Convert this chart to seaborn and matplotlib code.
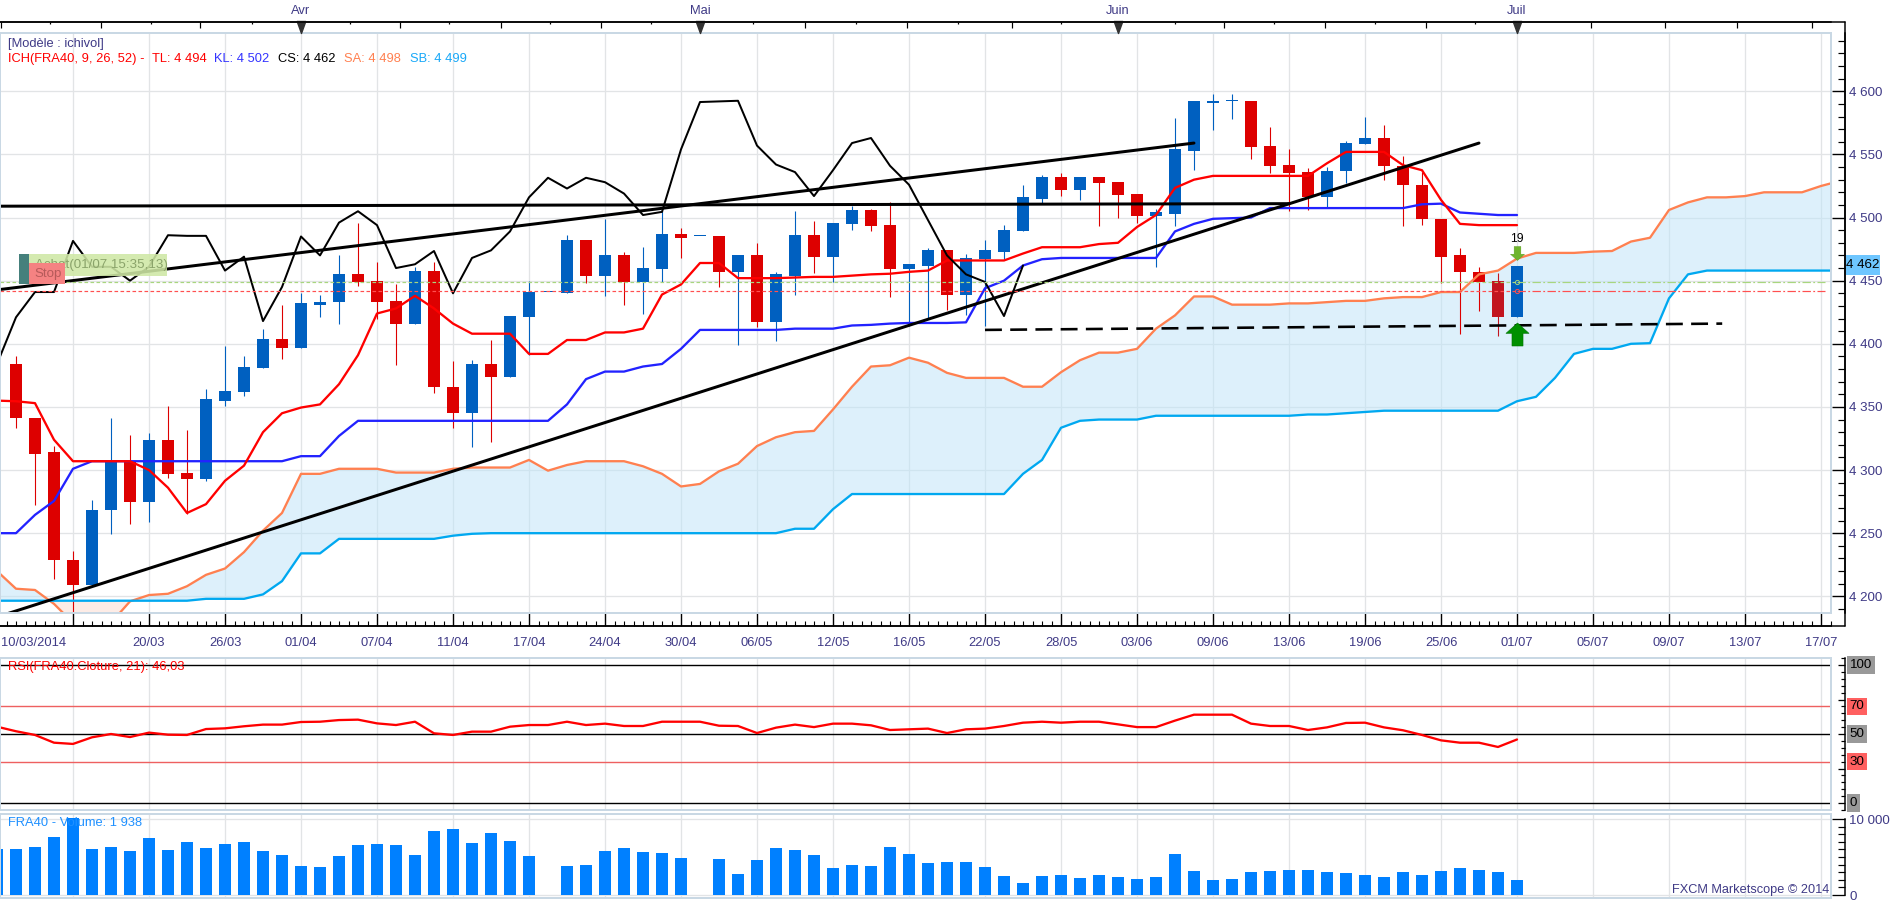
import numpy as np
import pandas as pd
import seaborn as sns
import matplotlib.pyplot as plt
from matplotlib.lines import Line2D
from matplotlib.path import Path
from matplotlib.patches import Rectangle
from matplotlib.ticker import MultipleLocator, FixedLocator, NullFormatter

W, H = 1903, 900

# candles, k = 0..79
opens = [4384, 4341, 4314, 4229, 4209, 4268, 4307, 4275, 4324, 4298, 4293, 4355, 4362, 4381, 4404, 4397,
         4431, 4433, 4455, 4450, 4434, 4416, 4458, 4366, 4345, 4384, 4374, 4421, 4441, 4440, 4482, 4454,
         4470, 4449, 4459, 4487, 4485, 4485, 4457, 4470, 4417, 4454, 4486, 4469, 4495, 4506, 4494, 4459,
         4462, 4474, 4439, 4467, 4473, 4489, 4515, 4532, 4522, 4532, 4528, 4519, 4501, 4503, 4553, 4591,
         4592, 4592, 4557, 4542, 4536, 4516, 4537, 4558, 4563, 4541, 4526, 4499, 4470, 4457, 4450, 4421]
closes = [4341, 4313, 4229, 4209, 4268, 4307, 4275, 4324, 4297, 4293, 4356, 4363, 4382, 4404, 4397, 4432,
          4433, 4455, 4449, 4433, 4416, 4458, 4366, 4345, 4384, 4374, 4422, 4441, 4441, 4482, 4454, 4470,
          4449, 4460, 4487, 4484, 4485, 4457, 4470, 4417, 4455, 4486, 4469, 4496, 4506, 4493, 4459, 4463,
          4474, 4439, 4468, 4474, 4490, 4516, 4532, 4522, 4532, 4527, 4518, 4501, 4504, 4554, 4592, 4592,
          4592, 4556, 4541, 4535, 4516, 4537, 4559, 4563, 4541, 4526, 4499, 4469, 4457, 4449, 4421, 4462]
highs = [4390, 4341, 4319, 4236, 4276, 4341, 4328, 4329, 4351, 4332, 4364, 4398, 4390, 4412, 4431, 4440,
         4439, 4470, 4496, 4465, 4447, 4461, 4465, 4386, 4387, 4403, 4422, 4450, 4441, 4486, 4482, 4499,
         4473, 4477, 4506, 4492, 4485, 4485, 4470, 4480, 4457, 4505, 4497, 4496, 4509, 4507, 4512, 4463,
         4476, 4474, 4471, 4482, 4494, 4526, 4534, 4535, 4532, 4532, 4528, 4519, 4507, 4579, 4592, 4598,
         4598, 4592, 4572, 4554, 4539, 4540, 4561, 4580, 4573, 4549, 4536, 4499, 4476, 4461, 4456, 4462]
lows = [4333, 4272, 4214, 4186, 4209, 4249, 4257, 4259, 4294, 4265, 4291, 4351, 4359, 4381, 4388, 4397,
        4421, 4416, 4446, 4420, 4383, 4416, 4361, 4333, 4318, 4322, 4374, 4391, 4441, 4440, 4448, 4438,
        4431, 4424, 4449, 4468, 4485, 4445, 4399, 4413, 4402, 4439, 4456, 4449, 4490, 4489, 4437, 4414,
        4420, 4427, 4423, 4414, 4467, 4489, 4511, 4517, 4514, 4493, 4500, 4496, 4461, 4493, 4538, 4569,
        4578, 4546, 4535, 4505, 4506, 4508, 4527, 4558, 4530, 4493, 4494, 4448, 4408, 4426, 4406, 4421]

# indicators, first value is k = -1
tl = [4355, 4354.5, 4353, 4324, 4307, 4307, 4307, 4307, 4300, 4286, 4266, 4273, 4291.5, 4303.5, 4330, 4345, 4349.5,
      4352, 4368, 4391, 4424, 4428, 4438, 4428, 4416, 4408, 4408, 4408, 4392, 4392, 4403, 4403, 4409, 4409,
      4412, 4439, 4447, 4464, 4464, 4452, 4452, 4452, 4452.5, 4453, 4453, 4454, 4455, 4455.5, 4457, 4458, 4466,
      4466, 4466, 4466, 4471.5, 4476.5, 4476.5, 4476.5, 4479, 4480, 4492.5, 4502, 4523.5, 4530, 4533, 4533, 4533,
      4533, 4533, 4533, 4543, 4552, 4552, 4552, 4541.5, 4537.5, 4514, 4495, 4494, 4494, 4494]
kl = [4250, 4250, 4264.5, 4275.5, 4301, 4307, 4307, 4307, 4307, 4307, 4307, 4307, 4307, 4307, 4307, 4307, 4311,
      4311, 4327, 4339, 4339, 4339, 4339, 4339, 4339, 4339, 4339, 4339, 4339, 4339, 4352, 4372, 4378, 4378,
      4382, 4384, 4396, 4411, 4411, 4411, 4411, 4411, 4412, 4412, 4412, 4414.5, 4415, 4416, 4416.5, 4416.5, 4416.5,
      4417, 4444, 4450, 4462, 4467, 4468, 4468, 4468, 4468, 4468, 4468, 4489, 4495, 4499, 4499.5, 4500, 4507.5,
      4507.5, 4507.5, 4507.5, 4507.5, 4507.5, 4507.5, 4507.5, 4510.5, 4511, 4504, 4503, 4502, 4502]
cs = [4384, 4421, 4441, 4441, 4481.5, 4461, 4461, 4450, 4461, 4486, 4485.5, 4485.5, 4458, 4469, 4418, 4445, 4485,
      4470, 4496, 4505, 4494, 4460, 4463, 4473.5, 4440, 4468, 4474, 4489, 4516, 4531.5, 4523, 4531.5, 4528, 4519,
      4502, 4504.5, 4554, 4591.5, 4592, 4592.5, 4557, 4542, 4536, 4517, 4537.5, 4559, 4563, 4541, 4526, 4498, 4470,
      4455, 4449, 4422, 4462]
sa = [4220, 4206, 4205, 4194, 4179, 4176, 4179, 4196, 4201, 4202, 4208, 4217, 4222, 4235, 4252, 4266, 4297,
      4297, 4301, 4301, 4301, 4298, 4298, 4298, 4301, 4302, 4302, 4302, 4308, 4299.5, 4304, 4307, 4307, 4307,
      4303, 4297, 4287, 4289, 4299, 4305, 4319, 4326, 4330, 4331, 4348, 4366, 4382, 4383, 4389, 4385, 4377,
      4373, 4373, 4373, 4366, 4366, 4377.5, 4387, 4393, 4393, 4396, 4412, 4422.5, 4437.5, 4437.5, 4431, 4431, 4431,
      4432, 4432, 4433, 4434, 4434, 4436, 4437, 4437, 4441, 4441, 4455, 4458, 4467.5, 4472, 4472, 4472, 4473, 4473.5,
      4481, 4484, 4506, 4512, 4516, 4516, 4517, 4520, 4520, 4520, 4525, 4529]
sb = [4196.5, 4196.5, 4196.5, 4196.5, 4196.5, 4196.5, 4196.5, 4196.5, 4196.5, 4196.5, 4196.5, 4198, 4198, 4198, 4201.5,
      4212, 4234, 4234, 4245.5, 4245.5, 4245.5, 4245.5, 4245.5, 4245.5, 4248, 4249.5, 4250, 4250, 4250, 4250, 4250,
      4250, 4250, 4250, 4250, 4250, 4250, 4250, 4250, 4250, 4250, 4250, 4253.5, 4253.5, 4269, 4281, 4281, 4281, 4281,
      4281, 4281, 4281, 4281, 4281, 4297, 4308, 4333.5, 4339, 4340, 4340, 4340, 4343, 4343, 4343, 4343, 4343, 4343,
      4343, 4343, 4344, 4344, 4345, 4346, 4347, 4347, 4347, 4347, 4347, 4347, 4347, 4354.5, 4358, 4373, 4392, 4396,
      4396, 4400, 4400.5, 4436, 4455, 4458, 4458, 4458, 4458, 4458, 4458, 4458, 4458]
rsi = [55.3, 52, 49.3, 43.7, 42.8, 47.6, 50, 47.8, 51, 49.5, 49.3, 53.6, 54.1, 55.6, 56.8, 56.8, 58.7, 58.9, 60.1,
       60.4, 57.7, 56.5, 58.9, 50.5, 49.3, 51.7, 51.7, 55.3, 56.5, 56.5, 58.9, 56.5, 57.5, 55.8, 55.8, 58.9, 58.9,
       58.9, 56, 55.8, 50.7, 54.6, 56.8, 55, 57.5, 57.5, 56.3, 52.9, 53.4, 53.9, 50.7, 53.4, 53.9, 55.8, 58.2, 58.9,
       58.2, 58.9, 58.9, 57, 55, 55, 59.7, 64, 64, 64, 57.5, 55.8, 55.8, 52.9, 54.8, 58, 58.2, 54.8, 52.7, 49.3,
       45.4, 43.7, 43.7, 40.6, 46.03]
volume = [6100, 6100, 6370, 7680, 10100, 6100, 6370, 5840, 7550, 5970, 7020, 6230, 6760, 7020, 5840, 5310, 3860,
          3730, 5180, 6630, 6760, 6630, 5310, 8470, 8740, 6890, 8210, 7160, 5180, 50, 3860, 3995, 5840, 6230, 5710,
          5580, 4920, 50, 4790, 2810, 4650, 6230, 5970, 5310, 3600, 3995, 3860, 6370, 5440, 4260, 4390, 4390, 3730,
          2550, 1620, 2550, 2680, 2280, 2680, 2410, 2150, 2410, 5440, 3200, 2020, 2150, 3070, 3200, 3340, 3340, 3070,
          2940, 2680, 2410, 3070, 2680, 3200, 3600, 3340, 3070, 1938]

# trend lines (k, price)
resistance_k, resistance_p = [-0.84, 62], [4443, 4559]
support_k, support_p = [-0.5, 77], [4186, 4559]
flat_k, flat_p = [-0.84, 67], [4509, 4511]
dashed_k, dashed_p = [51, 89.8], [4411, 4416]

grid_k = list(range(3, 96, 4))
date_k = list(range(7, 96, 4))
date_labels = ['20/03', '26/03', '01/04', '07/04', '11/04', '17/04', '24/04', '30/04', '06/05', '12/05', '16/05',
               '22/05', '28/05', '03/06', '09/06', '13/06', '19/06', '25/06', '01/07', '05/07', '09/07', '13/07',
               '17/07']
month_k = [15, 36, 58, 79]
month_labels = ['Avr', 'Mai', 'Juin', 'Juil']
top_long_k = [-0.8, 4.45, 9.7, 20.2, 25.5, 30.8, 41.5, 46.9, 52.4, 63.6, 68.9, 74.2, 82.9, 86.8, 90.6, 94.5]
top_short_k = [1.8, 7.1, 12.4, 17.6, 22.8, 28.1, 33.4, 38.8, 44.2, 49.6, 55, 61, 66.2, 71.5, 76.8]

NAVY = '#3f3a86'
FRAME = '#c9d8e4'
GRID = '#e2e4e6'
PX = 0.72  # one pixel in points at dpi 100
FS = 9.3

sns.set_theme(style='white')
plt.rcParams['font.family'] = ['Liberation Sans', 'DejaVu Sans']
plt.rcParams['font.size'] = FS

fig = plt.figure(figsize=(W / 100, H / 100), dpi=100, facecolor='white')


def panel(left, top, right, bottom):
    return fig.add_axes([left / W, 1 - bottom / H, (right - left) / W, (bottom - top) / H])


def fig_line(x0, y0, x1, y1, **kw):
    fig.add_artist(Line2D([x0 / W, x1 / W], [1 - y0 / H, 1 - y1 / H], transform=fig.transFigure, **kw))


def base_style(ax):
    ax.set_xlim(-16 / 19, (1831 - 16) / 19)
    ax.set_xlabel('')
    ax.set_ylabel('')
    ax.set_xticks([])
    for side in ['left', 'top', 'bottom']:
        ax.spines[side].set_visible(False)
    ax.spines['right'].set_position(('outward', 14 * PX))
    ax.spines['right'].set_color('black')
    ax.spines['right'].set_linewidth(1.5 * PX)
    ax.yaxis.tick_right()
    ax.add_patch(Rectangle((0, 0), 1, 1, transform=ax.transAxes, fill=False, ec=FRAME, lw=2 * PX,
                           clip_on=False, zorder=6))
    for gk in grid_k:
        ax.axvline(gk, color=GRID, lw=1.3 * PX, zorder=1.5)


# price panel
ax = panel(0, 33, 1831, 613)
k_all = np.arange(-1, 97)
sa_arr, sb_arr = np.array(sa), np.array(sb)
ax.fill_between(k_all, sa_arr, sb_arr, where=sa_arr >= sb_arr, interpolate=True, color='#bfe4f9', alpha=0.52, lw=0,
                zorder=2)
ax.fill_between(k_all, sa_arr, sb_arr, where=sa_arr < sb_arr, interpolate=True, color='#fbd5c8', alpha=0.45, lw=0,
                zorder=2)

candles = pd.DataFrame({'k': np.arange(80), 'open': opens, 'close': closes, 'high': highs, 'low': lows})
candles['body_low'] = candles[['open', 'close']].min(axis=1)
candles['body_h'] = (candles['close'] - candles['open']).abs().clip(lower=1.2)
candles['colour'] = np.where(candles['close'] >= candles['open'], '#0060c0', '#dd0000')
candles.loc[78, 'colour'] = '#c2151f'
ax.vlines(candles['k'], candles['low'], candles['high'], colors=candles['colour'], lw=1.1 * PX, zorder=3)
for colour, sub in candles.groupby('colour'):
    sns.barplot(x=sub['k'].values, y=sub['body_h'].values, bottom=sub['body_low'].values, native_scale=True,
                orient='x', width=12 / 19, color=colour, saturation=1, errorbar=None, ax=ax, zorder=3.2, lw=0)

series = [(k_all, sa, '#ff8050', 2.3), (k_all, sb, '#00a8f0', 2.3),
          (k_all[:81], kl, '#2222ff', 2.3), (k_all[:81], tl, '#ff0000', 2.3), (k_all[:55], cs, 'black', 2.0)]
for xs, ys, colour, width in series:
    sns.lineplot(x=xs, y=ys, color=colour, lw=width * PX, estimator=None, sort=False, ax=ax, zorder=4)
for xs, ys in [(resistance_k, resistance_p), (support_k, support_p), (flat_k, flat_p)]:
    sns.lineplot(x=xs, y=ys, color='black', lw=3 * PX, estimator=None, sort=False, ax=ax, zorder=4.2)
ax.plot(dashed_k, dashed_p, color='black', lw=2.6 * PX, dashes=(6.5, 3.2), zorder=4.2)

# order levels
ax.plot([-0.84, 79], [4449, 4449], color='#a8d67e', lw=1.2 * PX, dashes=(3, 2), zorder=4.3)
ax.plot([79, 95.2], [4449, 4449], color='#a8d67e', lw=1.2 * PX, dashes=(7, 2, 1.5, 2), zorder=4.3)
ax.plot([-0.84, 79], [4442, 4442], color='#ff5050', lw=1.2 * PX, dashes=(3, 2), zorder=4.3)
ax.plot([79, 95.2], [4442, 4442], color='#ff5050', lw=1.2 * PX, dashes=(7, 2, 1.5, 2), zorder=4.3)
ax.plot([79], [4449], 'o', ms=3, mfc='none', mec='#a8d67e', mew=0.7, zorder=4.4)
ax.plot([79], [4442], 'o', ms=3, mfc='none', mec='#ff5050', mew=0.7, zorder=4.4)

arrow_up = Path([(-0.5, 0.05), (0, 0.5), (0.5, 0.05), (0.24, 0.05), (0.24, -0.5), (-0.24, -0.5), (-0.24, 0.05),
                 (-0.5, 0.05)], closed=True)
arrow_down = Path([(-0.5, -0.05), (0, -0.5), (0.5, -0.05), (0.24, -0.05), (0.24, 0.5), (-0.24, 0.5), (-0.24, -0.05),
                   (-0.5, -0.05)], closed=True)
ax.plot([79], [4408], marker=arrow_up, ms=23 * PX, mfc='#009000', mec='#007000', mew=0.4, zorder=5)
ax.plot([79], [4472], marker=arrow_down, ms=14 * PX, mfc='#6fb52c', mec='#5a9a20', mew=0.3, zorder=5)
ax.text(79, 4483, '19', ha='center', va='center', color='black', fontsize=FS - 0.5, zorder=5)

base_style(ax)
main_ylim = (4600 - (613 - 91.3) / 1.2625, 4600 + (91.3 - 33) / 1.2625)
ax.set_ylim(main_ylim)
for level in range(4200, 4601, 50):
    ax.axhline(level, color=GRID, lw=1.3 * PX, zorder=1.5)
ax.yaxis.set_major_locator(FixedLocator(list(range(4200, 4601, 50))))
ax.yaxis.set_minor_locator(MultipleLocator(10))
ax.set_yticklabels([f'4 {v - 4000}' for v in range(4200, 4601, 50)])
ax.tick_params(axis='y', which='major', right=True, left=False, direction='in', length=13 * PX, width=1.4 * PX,
               color='black', labelcolor=NAVY, pad=3, labelsize=FS + 0.3)
ax.tick_params(axis='y', which='minor', right=True, left=False, direction='in', length=7 * PX, width=1.2 * PX,
               color='black')

ax.spines['bottom'].set_visible(True)
ax.spines['bottom'].set_position(('outward', 13 * PX))
ax.spines['bottom'].set_color('black')
ax.spines['bottom'].set_linewidth(1.5 * PX)
ax.set_xticks(date_k + [3], labels=date_labels + [''])
ax.xaxis.set_minor_locator(MultipleLocator(0.5))
ax.tick_params(axis='x', which='major', bottom=True, direction='in', length=13 * PX, width=1.4 * PX, color='black',
               labelcolor=NAVY, pad=8, labelsize=FS)
ax.tick_params(axis='x', which='minor', bottom=True, direction='in', length=5 * PX, width=1.1 * PX, color='black')
ax.text(0.0005, -(643 - 613) / 580, '10/03/2014', transform=ax.transAxes, ha='left', va='center', color=NAVY,
        fontsize=FS, clip_on=False)

# top month axis
top = ax.twiny()
top.set_xlim(ax.get_xlim())
for side in ['left', 'right', 'bottom']:
    top.spines[side].set_visible(False)
top.spines['top'].set_position(('outward', 11.5 * PX))
top.spines['top'].set_color('black')
top.spines['top'].set_linewidth(1.5 * PX)
top.set_xticks(top_long_k)
top.set_xticks(top_short_k, minor=True)
top.xaxis.set_major_formatter(NullFormatter())
top.tick_params(axis='x', which='major', top=True, bottom=False, direction='in', length=5.5 * PX, width=1.2 * PX,
                color='black')
top.tick_params(axis='x', which='minor', top=True, bottom=False, direction='in', length=2.5 * PX, width=1.2 * PX,
                color='black')
tri = Path([(-0.36, 0.5), (0.36, 0.5), (0, -0.5), (-0.36, 0.5)], closed=True)
top.plot(month_k, [1 + 5.8 / 580] * 4, marker=tri, ms=12 * PX, color='#333333', ls='none', clip_on=False,
         transform=top.get_xaxis_transform(), zorder=7)
for mk, ml in zip(month_k, month_labels):
    top.text(mk, 1 + 22.3 / 580, ml, ha='center', va='center', color=NAVY, fontsize=FS,
             transform=top.get_xaxis_transform(), clip_on=False)
ax.set_ylim(main_ylim)
ax.set_xlim(-16 / 19, (1831 - 16) / 19)
top.set_xlim(-16 / 19, (1831 - 16) / 19)

# header texts
fig.text(8 / W, 1 - 43.5 / H, '[Modèle : ichivol]', color=NAVY, fontsize=FS, va='center')
header = [(8, 'ICH(FRA40, 9, 26, 52) -', '#ff0000'), (152, 'TL: 4 494', '#ff0000'), (214, 'KL: 4 502', '#3333ff'),
          (278, 'CS: 4 462', 'black'), (344, 'SA: 4 498', '#ff8050'), (410.5, 'SB: 4 499', '#18a8f8')]
for hx, htext, hcolour in header:
    fig.text(hx / W, 1 - 59 / H, htext, color=hcolour, fontsize=FS, va='center')

# order labels
tag = dict(transform=fig.transFigure, clip_on=False, zorder=8)
fig.add_artist(Rectangle((19 / W, 1 - 276 / H), 148 / W, 22 / H, fc='#cfe8a5', ec='none', alpha=0.88, **tag))
fig.add_artist(Rectangle((19 / W, 1 - 284 / H), 10 / W, 30 / H, fc='#45807c', ec='none', **tag))
fig.text(35 / W, 1 - 265 / H, 'Achat(01/07 15:35,13)', color='#8aa36a', fontsize=FS + 0.3, va='center', zorder=9)
fig.add_artist(Rectangle((29 / W, 1 - 284 / H), 36 / W, 21 / H, fc='#f58282', ec='none', zorder=10,
                         transform=fig.transFigure))
fig.text(34 / W, 1 - 274 / H, 'Stop', color='#b65a5a', fontsize=FS + 0.3, va='center', zorder=11)

# last price tag
fig.add_artist(Rectangle((1846 / W, 1 - 275 / H), 34 / W, 20 / H, fc='#6ec6ff', ec='none', transform=fig.transFigure))
fig.text(1863 / W, 1 - 265 / H, '4 462', color='black', fontsize=FS + 0.3, ha='center', va='center')

# RSI panel
ax_rsi = panel(0, 658, 1831, 810)
sns.lineplot(x=k_all[:81], y=rsi, color='#ff0000', lw=2.3 * PX, estimator=None, sort=False, ax=ax_rsi, zorder=4)
base_style(ax_rsi)
ax_rsi.set_ylim((803 - 810) / 1.38, (803 - 658) / 1.38)
for level, colour in [(100, 'black'), (70, '#ee6060'), (50, 'black'), (30, '#ee6060'), (0, 'black')]:
    ax_rsi.axhline(level, color=colour, lw=1.4 * PX, zorder=3)
ax_rsi.yaxis.set_major_locator(FixedLocator([0, 25, 50, 75, 100]))
ax_rsi.yaxis.set_minor_locator(MultipleLocator(5))
ax_rsi.yaxis.set_major_formatter(NullFormatter())
ax_rsi.tick_params(axis='y', which='major', right=True, left=False, direction='in', length=7 * PX, width=1.3 * PX,
                   color='black')
ax_rsi.tick_params(axis='y', which='minor', right=True, left=False, direction='in', length=4 * PX, width=1.2 * PX,
                   color='black')
for level, label, colour in [(100, '100', '#999999'), (70, '70', '#ff6060'), (50, '50', '#999999'),
                             (30, '30', '#ff6060'), (0, '0', '#999999')]:
    ax_rsi.text(1 + 18.5 / 1831, level, label, transform=ax_rsi.get_yaxis_transform(), color='black', fontsize=FS + 0.3,
                ha='left', va='center', clip_on=False,
                bbox=dict(fc=colour, ec='none', pad=2))
fig.text(8 / W, 1 - 667 / H, 'RSI(FRA40.Cloture, 21): 46,03', color='#ff0000', fontsize=FS, va='center')

# volume panel
ax_vol = panel(0, 814, 1831, 898)
sns.barplot(x=k_all[:81], y=volume, native_scale=True, orient='x', width=12 / 19, color='#0080ff', saturation=1,
            errorbar=None, ax=ax_vol, zorder=3, lw=0)
base_style(ax_vol)
ax_vol.set_ylim((895 - 898) / 0.0076, (895 - 814) / 0.0076)
ax_vol.axhline(10000, color=GRID, lw=1.3 * PX, zorder=1.5)
ax_vol.axhline(0, color=GRID, lw=1.3 * PX, zorder=1.5)
ax_vol.spines['right'].set_bounds(0, 10000)
ax_vol.yaxis.set_major_locator(FixedLocator([0, 10000]))
ax_vol.yaxis.set_minor_locator(MultipleLocator(1000))
ax_vol.set_yticklabels(['0', '10 000'])
ax_vol.tick_params(axis='y', which='major', right=True, left=False, direction='in', length=13 * PX, width=1.3 * PX,
                   color='black', labelcolor=NAVY, pad=3, labelsize=FS + 0.3)
ax_vol.tick_params(axis='y', which='minor', right=True, left=False, direction='in', length=7 * PX, width=1.2 * PX,
                   color='black')
fig.text(8 / W, 1 - 823.5 / H, 'FRA40 - Volume: 1 938', color='#1e90ff', fontsize=FS, va='center', zorder=0.5)
fig.text(1829 / W, 1 - 890.5 / H, 'FXCM Marketscope © 2014', color=NAVY, fontsize=9.2, ha='right', va='center')

# axis corners that run past the panels
fig_line(0, 21.5, 1845, 21.5, color='black', lw=1.5 * PX)
fig_line(0, 626, 1845, 626, color='black', lw=1.5 * PX)
fig_line(1845, 21.5, 1845, 626, color='black', lw=1.5 * PX)

fig.savefig('out.png', dpi=100)
